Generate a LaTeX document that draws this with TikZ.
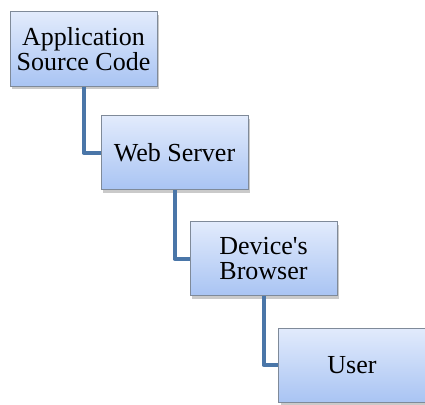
\documentclass[tikz,border=0pt]{standalone}
\usepackage{fontspec}
\setmainfont{Liberation Serif}
\usetikzlibrary{shadows}
\definecolor{boxtop}{HTML}{E2EBFC}
\definecolor{boxbot}{HTML}{A9C4F3}
\definecolor{boxedge}{HTML}{7F8A99}
\definecolor{linkcol}{HTML}{4A76A8}
\tikzset{
  stagebox/.style={draw=boxedge, line width=1pt, top color=boxtop, bottom color=boxbot,
    minimum width=147pt, minimum height=74pt, inner sep=0pt, align=center,
    font=\fontsize{26}{25}\selectfont,
    drop shadow={shadow xshift=2pt, shadow yshift=-3pt, opacity=0.35, fill=black!60}},
  link/.style={draw=linkcol, line width=4pt, line join=round}
}
\begin{document}
\begin{tikzpicture}[x=1pt,y=-1pt]
  \useasboundingbox (0,0) rectangle (425,404);
  \node[stagebox] (src) at (83.5,49) {Application\\Source Code};
  \node[stagebox] (web) at (174.5,152.5) {Web Server};
  \node[stagebox] (dev) at (263.5,258.5) {Device\textquotesingle s\\Browser};
  \node[stagebox] (usr) at (352,365) {User};
  \draw[link] (src.south) |- (web.west);
  \draw[link] (web.south) |- (dev.west);
  \draw[link] (dev.south) |- (usr.west);
\end{tikzpicture}
\end{document}
